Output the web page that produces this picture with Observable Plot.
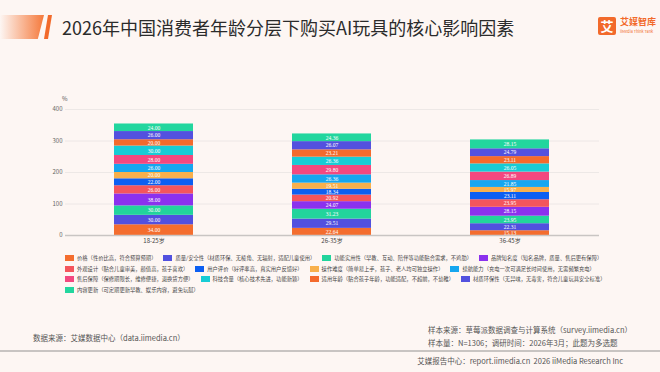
<!DOCTYPE html>
<html>
<head>
<meta charset="utf-8">
<script src="https://cdn.jsdelivr.net/npm/d3@7"></script>
<script src="https://cdn.jsdelivr.net/npm/@observablehq/plot@0.6"></script>
<style>
  html, body { margin: 0; padding: 0; }
  body { width: 660px; height: 372px; overflow: hidden; background: #fdf6f3; font-family: "Noto Sans CJK SC", "Noto Sans", sans-serif; }
  #root { position: relative; width: 660px; height: 372px; }
  .abs { position: absolute; white-space: nowrap; }
  #deco1 { left: 0; top: 15px; width: 44px; height: 24px; background: linear-gradient(90deg, rgba(246,120,60,0) 0%, #f5793b 100%); clip-path: polygon(0 0, 100% 0, 86% 100%, 0 100%); }
  #deco2 { left: 44px; top: 15px; width: 8px; height: 24px; background: #f26a2b; clip-path: polygon(50% 0, 100% 0, 50% 100%, 0 100%); }
  #title { left: 62px; top: 14px; font-size: 18px; line-height: 26px; color: #2b2b2b; font-weight: 400; }
  #logoBox { left: 598px; top: 17px; width: 18px; height: 18px; background: #f26a2b; border-radius: 2px; color: #fff; font-size: 13px; line-height: 18px; text-align: center; font-weight: 700; }
  #logoText { left: 620px; top: 16px; font-size: 9px; line-height: 12px; color: #f26a2b; font-weight: 700; }
  #logoSub { left: 620px; top: 29px; font-size: 3.8px; line-height: 5px; color: #f26a2b; }
  #pct { left: 62px; top: 95px; font-size: 6px; line-height: 7px; color: #555; }
  #chart { position: absolute; left: 0; top: 90px; }
  #legend { left: 65px; top: 253px; }
  .lrow { display: flex; gap: 7px; height: 10.5px; align-items: center; }
  .litem { display: flex; align-items: center; font-size: 5.3px; color: #444; }
  .sw { width: 9px; height: 6px; margin-right: 3px; flex: none; }
  .foot { font-size: 7.5px; color: #555; line-height: 10px; }
  #rule { left: 0; top: 350px; width: 660px; height: 1.5px; background: #c8c4c2; }
</style>
</head>
<body>
<div id="root">
  <div id="deco1" class="abs"></div>
  <div id="deco2" class="abs"></div>
  <div id="title" class="abs">2026年中国消费者年龄分层下购买AI玩具的核心影响因素</div>
  <div id="logoBox" class="abs">艾</div>
  <div id="logoText" class="abs">艾媒智库</div>
  <div id="logoSub" class="abs">iiMedia Think Tank</div>
  <div id="pct" class="abs">%</div>
  <div id="chart"></div>
  <div id="legend" class="abs"></div>
  <div class="abs foot" style="left:33px; top:333px;">数据来源：艾媒数据中心（data.iimedia.cn）</div>
  <div class="abs foot" style="left:428px; top:325px;">样本来源：草莓派数据调查与计算系统（survey.iimedia.cn）</div>
  <div class="abs foot" style="left:428px; top:338px;">样本量：N=1306；调研时间：2026年3月；此题为多选题</div>
  <div id="rule" class="abs"></div>
  <div class="abs foot" style="right:37px; top:356px;">艾媒报告中心：report.iimedia.cn&nbsp;&nbsp;2026 iiMedia Research Inc</div>
</div>
<script>
const ages = ["18-25岁", "26-35岁", "36-45岁"];
const factors = [
  "价格（性价比高，符合预算预期）",
  "质量/安全性（材质环保、无棱角、无辐射，适配儿童使用）",
  "功能实用性（早教、互动、陪伴等功能贴合需求，不鸡肋）",
  "品牌知名度（知名品牌，质量、售后更有保障）",
  "外观设计（贴合儿童审美，颜值高，孩子喜欢）",
  "用户评价（好评率高，真实用户反馈好）",
  "操作难度（简单易上手，孩子、老人均可独立操作）",
  "续航能力（充电一次可满足长时间使用，无需频繁充电）",
  "售后保障（保修期限长，维修便捷，退换货方便）",
  "科技含量（核心技术先进，功能新颖）",
  "适用年龄（贴合孩子年龄，功能适配，不超前，不幼稚）",
  "材质环保性（无异味，无毒害，符合儿童玩具安全标准）",
  "内容更新（可定期更新早教、娱乐内容，避免玩腻）"
];
const values18_25 = [34.00, 30.00, 30.00, 38.00, 26.00, 22.00, 20.00, 26.00, 28.00, 30.00, 20.00, 26.00, 24.00];
const values26_35 = [22.64, 29.51, 31.23, 24.07, 20.92, 18.34, 19.51, 26.36, 29.80, 26.36, 23.21, 26.07, 24.36];
const values36_45 = [15.13, 22.31, 23.95, 28.15, 23.95, 23.11, 15.97, 21.85, 26.89, 26.05, 23.11, 24.79, 28.15];
const yTicks = [0, 100, 200, 300, 400];
const colors = ["#f46d2e", "#5150df", "#22d49c", "#8b31ee", "#f4555c", "#0c5ff2", "#f8b04c", "#16a6ef", "#f3487f", "#17ccd5", "#f46a2c", "#5351df", "#22d69e"];
const legendRows = [[0, 1, 2, 3], [4, 5, 6, 7], [8, 9, 10, 11], [12]];

const series = [values18_25, values26_35, values36_45];
const data = factors.flatMap((f, i) => ages.map((a, j) => ({age: a, factor: f, value: series[j][i]})));

const chart = Plot.plot({
  width: 660,
  height: 160,
  marginLeft: 65,
  marginRight: 61,
  marginTop: 19,
  marginBottom: 15,
  style: {background: "transparent", fontFamily: "'Noto Sans CJK SC', 'Noto Sans', sans-serif", color: "#555", overflow: "visible"},
  x: {domain: ages, paddingInner: 0.556, paddingOuter: 0.278, label: null},
  y: {domain: [0, 400], label: null},
  color: {domain: factors, range: colors},
  marks: [
    Plot.gridY(yTicks, {stroke: "#e9e4e2", strokeOpacity: 1, strokeWidth: 0.8}),
    Plot.axisY(yTicks, {tickSize: 0, tickPadding: 3, fontSize: 6, label: null, fill: "#666"}),
    Plot.axisX({tickSize: 0, tickPadding: 3, fontSize: 6, label: null, fill: "#444"}),
    Plot.barY(data, {x: "age", y: "value", fill: "factor"}),
    Plot.text(data, Plot.stackY({x: "age", y: "value", text: d => d.value.toFixed(2), fill: "white", fontSize: 5.5, fontFamily: "'Liberation Serif', serif"})),
    Plot.ruleY([0], {stroke: "#c9c5c3", strokeWidth: 1.5})
  ]
});
document.getElementById("chart").appendChild(chart);

const legend = document.getElementById("legend");
legendRows.forEach(row => {
  const r = document.createElement("div");
  r.className = "lrow";
  row.forEach(i => {
    const it = document.createElement("div");
    it.className = "litem";
    const sw = document.createElement("span");
    sw.className = "sw";
    sw.style.background = colors[i];
    const t = document.createElement("span");
    t.textContent = factors[i];
    it.appendChild(sw);
    it.appendChild(t);
    r.appendChild(it);
  });
  legend.appendChild(r);
});
</script>
</body>
</html>
